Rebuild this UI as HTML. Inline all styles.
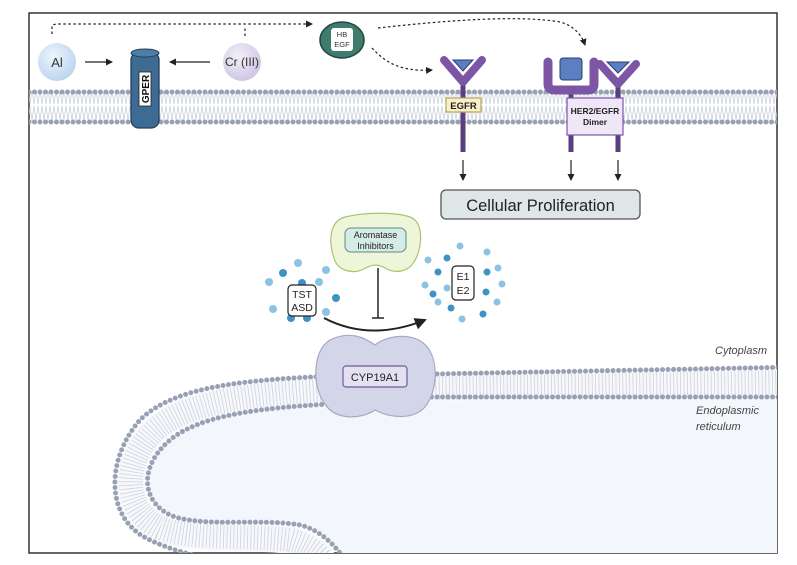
<!DOCTYPE html>
<html><head><meta charset="utf-8"><style>
html,body{margin:0;padding:0;background:#fff;}
svg{display:block;font-family:"Liberation Sans",sans-serif;}
</style></head><body>
<svg width="797" height="565" viewBox="0 0 797 565" xmlns="http://www.w3.org/2000/svg">
<defs>
<marker id="ah" markerWidth="8" markerHeight="8" refX="6" refY="4" orient="auto" markerUnits="userSpaceOnUse"><path d="M0,0.5 L7,4 L0,7.5 Z" fill="#222"/></marker>
<marker id="ahb" markerWidth="14" markerHeight="14" refX="10" refY="7" orient="auto" markerUnits="userSpaceOnUse"><path d="M0,1 L12,7 L0,13 Z" fill="#222"/></marker>
<pattern id="lip" width="4" height="30" patternUnits="userSpaceOnUse"><path d="M0,0 L2,14 M4,0 L2,14 M0,30 L2,16 M4,30 L2,16" stroke="#c4cad6" stroke-width="0.7" fill="none"/></pattern>
<radialGradient id="gal" cx="40%" cy="35%" r="70%"><stop offset="0" stop-color="#eef5fd"/><stop offset="1" stop-color="#b9d3ef"/></radialGradient>
<radialGradient id="gcr" cx="40%" cy="35%" r="70%"><stop offset="0" stop-color="#f3f0fa"/><stop offset="1" stop-color="#cbc4e2"/></radialGradient>
<clipPath id="fr"><rect x="29" y="13" width="748" height="540"/></clipPath>
</defs>
<rect x="29" y="13" width="748" height="540" fill="#fff" stroke="#333" stroke-width="1.5"/>
<g clip-path="url(#fr)">
<path d="M800 397 L420 397 L330 404 C260 408 200 415 170 440 C140 465 140 500 170 515 C200 528 260 518 300 525 C320 530 335 545 345 560 L800 560 Z" fill="#f3f6fb"/>
<path d="M800 382 L330 390 C255 394 190 400 155 430 C122 462 122 510 160 528 C190 540 250 535 290 540 C310 545 320 555 325 565" fill="none" stroke="#f7f8fb" stroke-width="28"/>
<path d="M800 382 L330 390 C255 394 190 400 155 430 C122 462 122 510 160 528 C190 540 250 535 290 540 C310 545 320 555 325 565" fill="none" stroke="#cdd2dc" stroke-width="24" stroke-dasharray="0.8 2.6"/>
<path d="M800 397 L420 397 L330 404 C260 408 200 415 170 440 C140 465 140 500 170 515 C200 528 260 518 300 525 C320 530 335 545 345 560" fill="none" stroke="#98a1b3" stroke-width="5" stroke-dasharray="0 5.5" stroke-linecap="round"/>
<path d="M800 367 L330 376 C250 380 175 385 140 420 C105 460 105 520 150 540 C175 552 200 556 210 560" fill="none" stroke="#98a1b3" stroke-width="5" stroke-dasharray="0 5.5" stroke-linecap="round"/>
<rect x="29" y="92" width="750" height="30" fill="url(#lip)"/>
<line x1="29" y1="92" x2="780" y2="92" stroke="#98a1b3" stroke-width="5" stroke-dasharray="0 5.5" stroke-linecap="round"/>
<line x1="29" y1="122" x2="780" y2="122" stroke="#98a1b3" stroke-width="5" stroke-dasharray="0 5.5" stroke-linecap="round"/>
</g>
<path d="M52 34 L52 26 Q52 24 60 24 L312 24" fill="none" stroke="#222" stroke-width="1.2" stroke-dasharray="2.5 2.5" marker-end="url(#ah)"/>
<path d="M245 36 L245 26" fill="none" stroke="#222" stroke-width="1.2" stroke-dasharray="2.5 2.5"/>
<path d="M378 28 C450 20 520 15 560 22 C575 26 582 36 585 45" fill="none" stroke="#222" stroke-width="1.2" stroke-dasharray="2.5 2.5" marker-end="url(#ah)"/>
<path d="M372 48 C385 62 400 72 432 70" fill="none" stroke="#222" stroke-width="1.2" stroke-dasharray="2.5 2.5" marker-end="url(#ah)"/>
<circle cx="57" cy="62" r="19" fill="url(#gal)"/>
<text x="57" y="67" font-size="13" text-anchor="middle" fill="#333">Al</text>
<line x1="85" y1="62" x2="112" y2="62" stroke="#222" stroke-width="1.3" marker-end="url(#ah)"/>
<rect x="131" y="52" width="28" height="76" rx="8" fill="#3d6b94" stroke="#23405c" stroke-width="1.3"/>
<ellipse cx="145" cy="53" rx="14" ry="4" fill="#4e7ea8" stroke="#23405c" stroke-width="1"/>
<rect x="139" y="72" width="12" height="34" fill="#fff" stroke="#222" stroke-width="0.8"/>
<text x="0" y="0" font-size="10" font-weight="bold" text-anchor="middle" transform="translate(149,89) rotate(-90)" fill="#111">GPER</text>
<line x1="210" y1="62" x2="170" y2="62" stroke="#222" stroke-width="1.3" marker-end="url(#ah)"/>
<circle cx="242" cy="62" r="19" fill="url(#gcr)"/>
<text x="242" y="66" font-size="12" text-anchor="middle" fill="#333">Cr (III)</text>
<ellipse cx="342" cy="40" rx="22" ry="18" fill="#3f7b6f" stroke="#24473f" stroke-width="1.5"/>
<rect x="331" y="28" width="22" height="23" rx="3" fill="#fff"/>
<text x="342" y="37" font-size="7.5" text-anchor="middle" fill="#333">HB</text>
<text x="342" y="47" font-size="7.5" text-anchor="middle" fill="#333">EGF</text>
<line x1="463" y1="80" x2="463" y2="152" stroke="#5a3f7e" stroke-width="5"/>
<path d="M444 60 L463 82 L482 60" fill="none" stroke="#7d55a5" stroke-width="8" stroke-linejoin="round" stroke-linecap="round"/>
<path d="M453 60 L473 60 L463 71 Z" fill="#5b7fc2" stroke="#2d3f6e" stroke-width="1"/>
<rect x="446" y="98" width="35" height="14" fill="#f8f0c8" stroke="#b8a560" stroke-width="1.2"/>
<text x="463.5" y="109" font-size="9.5" font-weight="bold" text-anchor="middle" fill="#222">EGFR</text>
<line x1="571" y1="88" x2="571" y2="152" stroke="#5a3f7e" stroke-width="5"/>
<line x1="618" y1="84" x2="618" y2="152" stroke="#5a3f7e" stroke-width="5"/>
<path d="M548 62 L548 84 Q548 90 555 90 L588 90 Q594 90 594 84 L594 62" fill="none" stroke="#7d55a5" stroke-width="9" stroke-linecap="round"/>
<rect x="560" y="58" width="22" height="22" rx="3" fill="#5b7fc2" stroke="#2d3f6e" stroke-width="1"/>
<path d="M600 64 L618 84 L636 64" fill="none" stroke="#7d55a5" stroke-width="8" stroke-linejoin="round" stroke-linecap="round"/>
<path d="M607 62 L629 62 L618 73 Z" fill="#5b7fc2" stroke="#2d3f6e" stroke-width="1"/>
<rect x="567" y="98" width="56" height="37" fill="#efe6f8" stroke="#7d55a5" stroke-width="1.2"/>
<text x="595" y="114" font-size="8.5" font-weight="bold" text-anchor="middle" fill="#222">HER2/EGFR</text>
<text x="595" y="125" font-size="8.5" font-weight="bold" text-anchor="middle" fill="#222">Dimer</text>
<line x1="463" y1="160" x2="463" y2="180" stroke="#222" stroke-width="1.2" marker-end="url(#ah)"/>
<line x1="571" y1="160" x2="571" y2="180" stroke="#222" stroke-width="1.2" marker-end="url(#ah)"/>
<line x1="618" y1="160" x2="618" y2="180" stroke="#222" stroke-width="1.2" marker-end="url(#ah)"/>
<rect x="441" y="190" width="199" height="29" rx="5" fill="#dfe6e8" stroke="#555" stroke-width="1.3"/>
<text x="540.5" y="211" font-size="16.5" text-anchor="middle" fill="#222">Cellular Proliferation</text>
<path d="M345 217 C365 212 395 212 410 217 C425 222 422 250 414 262 C408 272 395 274 385 268 C378 264 372 264 364 269 C352 275 337 270 334 258 C328 240 330 221 345 217 Z" fill="#eef5d8" stroke="#a9c46f" stroke-width="1.2"/>
<rect x="345" y="228" width="61" height="24" rx="6" fill="#d6ebe5" stroke="#5a8c84" stroke-width="1"/>
<text x="375.5" y="238" font-size="9" text-anchor="middle" fill="#222">Aromatase</text>
<text x="375.5" y="249" font-size="9" text-anchor="middle" fill="#222">Inhibitors</text>
<line x1="378" y1="268" x2="378" y2="318" stroke="#222" stroke-width="1.5"/>
<line x1="372" y1="318" x2="384" y2="318" stroke="#222" stroke-width="1.5"/>
<g fill="#8cc3e3">
<circle cx="269" cy="282" r="4"/><circle cx="298" cy="263" r="4"/><circle cx="326" cy="270" r="4"/><circle cx="319" cy="282" r="4"/><circle cx="273" cy="309" r="4"/><circle cx="326" cy="312" r="4"/>
<circle cx="428" cy="260" r="3.5"/><circle cx="460" cy="246" r="3.5"/><circle cx="487" cy="252" r="3.5"/><circle cx="498" cy="268" r="3.5"/><circle cx="502" cy="284" r="3.5"/><circle cx="497" cy="302" r="3.5"/><circle cx="425" cy="285" r="3.5"/><circle cx="438" cy="302" r="3.5"/><circle cx="462" cy="319" r="3.5"/><circle cx="447" cy="288" r="3.5"/>
</g>
<g fill="#3f92c6">
<circle cx="283" cy="273" r="4"/><circle cx="302" cy="283" r="4"/><circle cx="336" cy="298" r="4"/><circle cx="291" cy="318" r="4"/><circle cx="307" cy="318" r="4"/>
<circle cx="447" cy="258" r="3.5"/><circle cx="438" cy="272" r="3.5"/><circle cx="487" cy="272" r="3.5"/><circle cx="486" cy="292" r="3.5"/><circle cx="451" cy="308" r="3.5"/><circle cx="483" cy="314" r="3.5"/><circle cx="433" cy="294" r="3.5"/>
</g>
<rect x="288" y="285" width="28" height="31" rx="4" fill="#fff" stroke="#222" stroke-width="1.2"/>
<text x="302" y="298" font-size="10.5" text-anchor="middle" fill="#222">TST</text>
<text x="302" y="311" font-size="10.5" text-anchor="middle" fill="#222">ASD</text>
<rect x="452" y="266" width="22" height="34" rx="4" fill="#fff" stroke="#222" stroke-width="1.2"/>
<text x="463" y="280" font-size="10.5" text-anchor="middle" fill="#222">E1</text>
<text x="463" y="294" font-size="10.5" text-anchor="middle" fill="#222">E2</text>
<path d="M324 318 Q370 342 425 320" fill="none" stroke="#222" stroke-width="2" marker-end="url(#ahb)"/>
<path d="M330 340 C350 330 365 338 375 345 C385 336 415 330 428 348 C440 365 436 395 424 408 C412 420 390 418 375 410 C360 420 335 420 325 404 C312 388 312 350 330 340 Z" fill="#d3d5e8" stroke="#a6a9c6" stroke-width="1.2"/>
<rect x="343" y="366" width="64" height="21" rx="3" fill="#e3e1f1" stroke="#6f5a99" stroke-width="1.2"/>
<text x="375" y="381" font-size="11" text-anchor="middle" fill="#222">CYP19A1</text>
<text x="767" y="354" font-size="11" font-style="italic" text-anchor="end" fill="#444">Cytoplasm</text>
<text x="696" y="414" font-size="11" font-style="italic" fill="#444">Endoplasmic</text>
<text x="696" y="430" font-size="11" font-style="italic" fill="#444">reticulum</text>
</svg>
</body></html>
